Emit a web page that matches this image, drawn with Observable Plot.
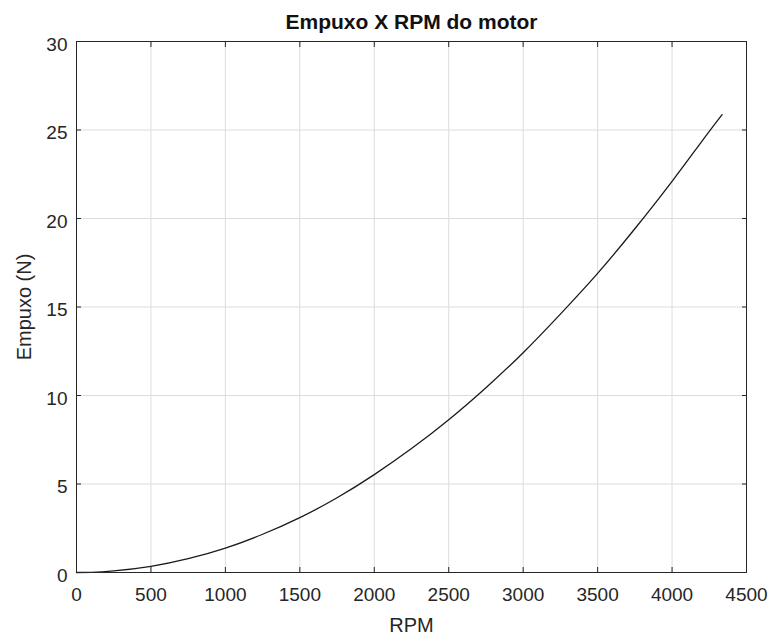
<!DOCTYPE html>
<html>
<head>
<meta charset="utf-8">
<script src="https://cdn.jsdelivr.net/npm/d3@7"></script>
<script src="https://cdn.jsdelivr.net/npm/@observablehq/plot@0.6"></script>
<style>
  html, body { margin: 0; padding: 0; background: #fff; }
  #chart svg { display: block; }
</style>
</head>
<body>
<div id="chart"></div>
<script>
const rpm    = [0, 100, 250, 500, 750, 1000, 1250, 1500, 1750, 2000, 2250, 2500, 2750, 3000, 3250, 3500, 3750, 4000, 4200, 4336];
const empuxo = [0, 0.01, 0.09, 0.35, 0.78, 1.38, 2.16, 3.1, 4.22, 5.53, 7.0, 8.63, 10.44, 12.42, 14.6, 16.9, 19.42, 22.1, 24.36, 25.87];
const xTicks = [0, 500, 1000, 1500, 2000, 2500, 3000, 3500, 4000, 4500];
const yTicks = [0, 5, 10, 15, 20, 25, 30];
const title = "Empuxo X RPM do motor";
const xLabel = "RPM";
const yLabel = "Empuxo (N)";

const data = rpm.map((r, i) => ({rpm: r, empuxo: empuxo[i]}));
const axisColor = "#262626";
const fmt = d => String(d);

const chart = Plot.plot({
  width: 771,
  height: 637,
  marginLeft: 76,
  marginRight: 25,
  marginTop: 41,
  marginBottom: 65,
  style: {fontFamily: "Liberation Sans, Arial, sans-serif", background: "#fff", color: axisColor, fontSize: "19px"},
  x: {domain: [0, 4500]},
  y: {domain: [0, 30]},
  marks: [
    Plot.gridX(xTicks, {stroke: "#dcdcdc", strokeOpacity: 1}),
    Plot.gridY(yTicks, {stroke: "#dcdcdc", strokeOpacity: 1}),
    Plot.line(data, {x: "rpm", y: "empuxo", stroke: "#1a1a1a", strokeWidth: 1.3, curve: "natural"}),
    Plot.frame({stroke: axisColor, strokeWidth: 1}),
    // inward ticks on all four sides
    Plot.axisX({anchor: "bottom", ticks: xTicks, tickSize: -5, text: null, stroke: axisColor, label: null}),
    Plot.axisX({anchor: "top", ticks: xTicks, tickSize: -5, text: null, stroke: axisColor, label: null}),
    Plot.axisY({anchor: "left", ticks: yTicks, tickSize: -5, text: null, stroke: axisColor, label: null}),
    Plot.axisY({anchor: "right", ticks: yTicks, tickSize: -5, text: null, stroke: axisColor, label: null}),
    // tick labels
    Plot.axisX({anchor: "bottom", ticks: xTicks, tickFormat: fmt, tickSize: 0, tickPadding: 15, fontSize: 19, fill: axisColor,
      label: xLabel, labelAnchor: "center", labelArrow: "none", labelOffset: 59}),
    Plot.axisY({anchor: "left", ticks: yTicks, tickFormat: fmt, tickSize: 0, tickPadding: 9, dy: 3, fontSize: 19, fill: axisColor,
      label: yLabel, labelAnchor: "center", labelArrow: "none", labelOffset: 60}),
    Plot.text([title], {frameAnchor: "top", lineAnchor: "middle", dy: -19, text: d => d, fontSize: 21, fontWeight: "bold", fill: "#111"})
  ]
});

chart.querySelectorAll("g[aria-label='x-axis tick label'], g[aria-label='y-axis tick label']").forEach(g => {
  g.setAttribute("font-size", "19");
  g.style.fontSize = "19px";
});
chart.querySelectorAll("g[aria-label='x-axis label'], g[aria-label='y-axis label']").forEach(g => {
  g.setAttribute("font-size", "20");
  g.style.fontSize = "20px";
});
document.getElementById("chart").appendChild(chart);
</script>
</body>
</html>
